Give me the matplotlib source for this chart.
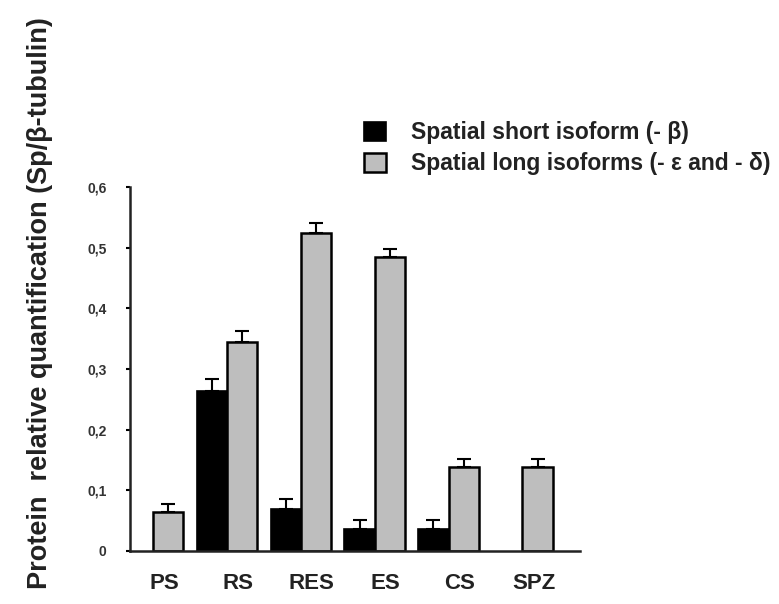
import matplotlib
matplotlib.use("Agg")
import matplotlib.pyplot as plt
import numpy as np
from matplotlib.patches import Patch

plt.rcParams['font.family'] = ['Liberation Sans', 'DejaVu Sans']

categories = ['PS', 'RS', 'RES', 'ES', 'CS', 'SPZ']
short_vals = [np.nan, 0.263, 0.070, 0.036, 0.036, np.nan]
short_err = [np.nan, 0.020, 0.015, 0.015, 0.015, np.nan]
long_vals = [0.064, 0.345, 0.524, 0.485, 0.139, 0.139]
long_err = [0.013, 0.018, 0.017, 0.013, 0.012, 0.012]
ytick_vals = [0, 0.1, 0.2, 0.3, 0.4, 0.5, 0.6]
ytick_labels = ['0', '0,1', '0,2', '0,3', '0,4', '0,5', '0,6']
legend_labels = ['Spatial short isoform (- β)', 'Spatial long isoforms (- ε and - δ)']

W, H = 779, 604
fig = plt.figure(figsize=(W / 100, H / 100), dpi=100)
ax = fig.add_axes([130 / W, 1 - 551 / H, 450 / W, (551 - 187) / H])

x = np.arange(len(categories))
w = 0.41
gray = '#bebebe'
txt = '#222222'

ax.bar(x - w / 2, short_vals, width=w, color='black', edgecolor='black', linewidth=1.2,
       yerr=[np.zeros(len(x)), short_err], capsize=5,
       error_kw=dict(ecolor='black', elinewidth=1.5, capthick=1.5))
ax.bar(x + w / 2, long_vals, width=w, color=gray, edgecolor='black', linewidth=1.8,
       yerr=[np.zeros(len(x)), long_err], capsize=5,
       error_kw=dict(ecolor='black', elinewidth=1.5, capthick=1.5))

ax.set_xlim(-0.313, 5.78)
ax.set_ylim(0, 0.6)
ax.set_yticks(ytick_vals)
ax.set_yticklabels(ytick_labels, fontsize=10, fontweight='bold', color='#333333')
ax.set_xticks(x + 0.15)
ax.set_xticklabels(categories, fontsize=16, fontweight='bold', color=txt)
ax.tick_params(axis='x', length=0, pad=16)
ax.tick_params(axis='y', direction='out', length=3, width=1.5, pad=14)

for s in ['top', 'right']:
    ax.spines[s].set_visible(False)
for s in ['left', 'bottom']:
    ax.spines[s].set_linewidth(1.8)
    ax.spines[s].set_color(txt)

fig.text(40 / W, 1 - 303 / H, 'Protein  relative quantification (Sp/β-tubulin)',
         rotation=90, ha='center', va='center', fontsize=19.5, fontweight='bold', color=txt)

handles = [Patch(facecolor='black', edgecolor='black', linewidth=1.2),
           Patch(facecolor=gray, edgecolor='black', linewidth=1.8)]
leg = fig.legend(handles, legend_labels, loc='upper left',
                 bbox_to_anchor=(364 / W, 1 - 121 / H), bbox_transform=fig.transFigure,
                 frameon=False, borderpad=0, borderaxespad=0,
                 handlelength=0.95, handleheight=0.9, handletextpad=1.1,
                 labelspacing=0.35, prop=dict(size=16.5, weight='bold'))
for t in leg.get_texts():
    t.set_color(txt)

fig.savefig('out.png', dpi=100)
